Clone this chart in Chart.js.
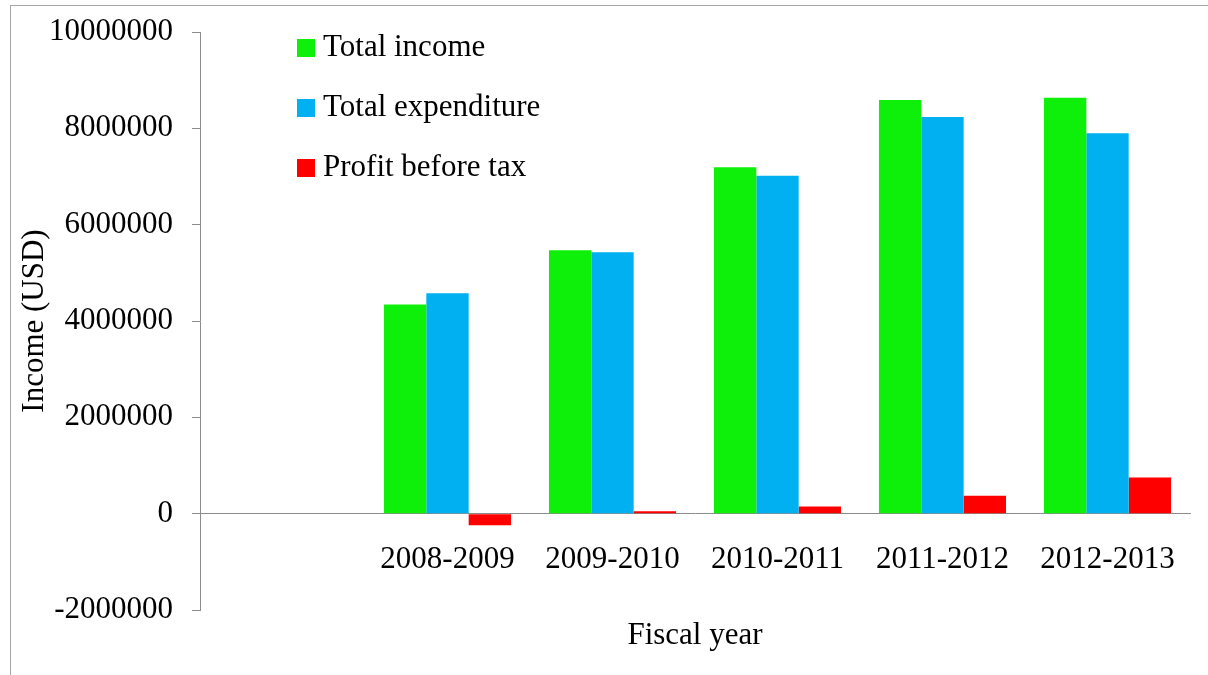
<!DOCTYPE html>
<html>
<head>
<meta charset="utf-8">
<title>Income by fiscal year</title>
<script src="https://cdn.jsdelivr.net/npm/chart.js@4/dist/chart.umd.min.js"></script>
<style>
    html, body {
        margin: 0;
        padding: 0;
        background: #fff;
        overflow: hidden;
    }
    #frame {
        position: absolute;
        left: 10px;
        top: 5px;
        width: 1400px;
        height: 900px;
        border: 1px solid #a6a6a6;
    }
    #wrap {
        position: absolute;
        left: 0;
        top: 0;
        width: 1208px;
        height: 675px;
    }
</style>
</head>
<body>
<div id="frame"></div>
<div id="wrap"><canvas id="incomeChart"></canvas></div>
<script>
const years = ["", "2008-2009", "2009-2010", "2010-2011", "2011-2012", "2012-2013"];
const totalIncome = [null, 4345000, 5468000, 7193000, 8586000, 8634000];
const totalExpenditure = [null, 4574000, 5426000, 7013000, 8233000, 7900000];
const profitBeforeTax = [null, -240000, 50000, 150000, 370000, 750000];
const yTicks = [-2000000, 0, 2000000, 4000000, 6000000, 8000000, 10000000];

const serif = "'Liberation Serif', 'Times New Roman', serif";
const axisGray = '#8c8c8c';

// legend drawn as a plain stacked list inside the plot
const stackedLegend = {
    id: 'stackedLegend',
    afterDraw(chart) {
        const ctx = chart.ctx;
        ctx.save();
        ctx.font = `31px ${serif}`;
        ctx.textBaseline = 'middle';
        ctx.textAlign = 'left';
        chart.data.datasets.forEach((ds, i) => {
            const y = 48 + i * 60;
            ctx.fillStyle = ds.backgroundColor;
            ctx.fillRect(297, y - 9, 18, 18);
            ctx.fillStyle = '#000';
            ctx.fillText(ds.label, 323, y);
        });
        ctx.restore();
    }
};

// x axis title sits below the plot, under the zero-line labels
const xTitle = {
    id: 'xTitle',
    afterDraw(chart) {
        const { ctx, chartArea } = chart;
        ctx.save();
        ctx.font = `31px ${serif}`;
        ctx.fillStyle = '#000';
        ctx.textAlign = 'center';
        ctx.textBaseline = 'middle';
        ctx.fillText('Fiscal year', (chartArea.left + chartArea.right) / 2, chartArea.bottom + 26);
        ctx.restore();
    }
};

new Chart(document.getElementById('incomeChart'), {
    type: 'bar',
    data: {
        labels: years,
        datasets: [
            { label: 'Total income', data: totalIncome, backgroundColor: '#0ef00a' },
            { label: 'Total expenditure', data: totalExpenditure, backgroundColor: '#00b0f0' },
            { label: 'Profit before tax', data: profitBeforeTax, backgroundColor: '#ff0000' }
        ]
    },
    options: {
        responsive: true,
        maintainAspectRatio: false,
        animation: false,
        layout: { padding: { left: 0, top: 32, right: 18, bottom: 65 } },
        datasets: {
            bar: { categoryPercentage: 0.77, barPercentage: 1.0 }
        },
        plugins: {
            legend: { display: false },
            tooltip: { enabled: false }
        },
        scales: {
            x: {
                position: { y: 0 },
                grid: { display: false },
                border: { display: true, color: axisGray, width: 1 },
                ticks: {
                    color: '#000',
                    font: { family: serif, size: 31 },
                    padding: 20,
                    maxRotation: 0,
                    autoSkip: false
                }
            },
            y: {
                min: -2000000,
                max: 10000000,
                afterFit(scale) {
                    scale.width = 200;
                    // labels may overhang the plot; keep the plot edges fixed
                    scale.paddingTop = 0;
                    scale.paddingBottom = 0;
                },
                afterBuildTicks(scale) { scale.ticks = yTicks.map(v => ({ value: v })); },
                grid: {
                    drawOnChartArea: false,
                    drawTicks: true,
                    tickLength: 8,
                    color: axisGray
                },
                border: { display: true, color: axisGray, width: 1 },
                ticks: {
                    color: '#000',
                    font: { family: serif, size: 31 },
                    padding: 19,
                    callback: v => String(v)
                },
                title: {
                    display: true,
                    text: 'Income (USD)',
                    color: '#000',
                    font: { family: serif, size: 31 },
                    padding: { top: 16, bottom: 0 }
                }
            }
        }
    },
    plugins: [stackedLegend, xTitle]
});
</script>
</body>
</html>
